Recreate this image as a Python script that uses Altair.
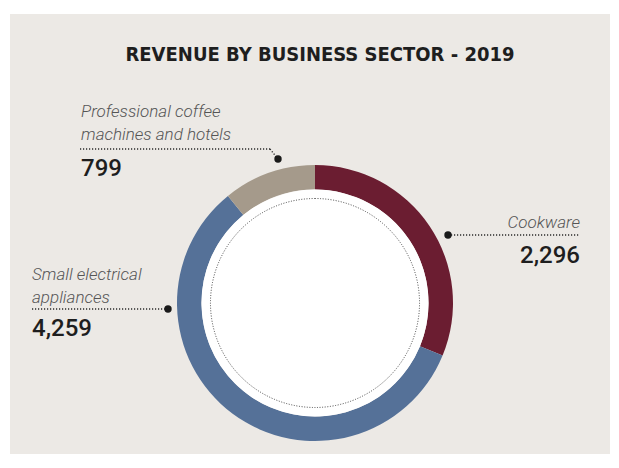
import altair as alt
import pandas as pd

# ---- data ----
sectors = ["Cookware", "Small electrical appliances", "Professional coffee machines and hotels"]
values = [2296, 4259, 799]
label_lines = [["Cookware"], ["Small electrical", "appliances"], ["Professional coffee", "machines and hotels"]]
colors = ["#6B1D31", "#557198", "#A59A8B"]
title_text = "REVENUE BY BUSINESS SECTOR - 2019"

BG = "#ECE9E5"
CX, CY = 305, 289
R_OUT, R_IN, R_DOT = 138, 113.5, 104.5

df = pd.DataFrame({"sector": sectors, "value": values, "order": list(range(len(sectors)))})

ring = alt.Chart(df).mark_arc(radius=R_OUT, radius2=R_IN, stroke=None).encode(
    theta=alt.Theta("value:Q", stack=True),
    order=alt.Order("order:Q"),
    color=alt.Color("sector:N", scale=alt.Scale(domain=sectors, range=colors), legend=None),
    x=alt.value(CX), y=alt.value(CY),
)

one = pd.DataFrame({"k": [0]})
inner = alt.Chart(one).mark_arc(radius=R_IN, theta=0, theta2=6.2832, fill="white", stroke=None).encode(
    x=alt.value(CX), y=alt.value(CY))
dotted = alt.Chart(one).mark_arc(radius=R_DOT, theta=0, theta2=6.2832, fill="white", fillOpacity=0,
                                 stroke="#333", strokeWidth=0.9, strokeDash=[1, 1.6]).encode(
    x=alt.value(CX), y=alt.value(CY))

title = alt.Chart(pd.DataFrame({"t": [title_text]})).mark_text(
    font="'DejaVu Sans Condensed', Roboto, sans-serif", fontWeight="bold", fontSize=20, color="#1e1e1e",
    align="center", baseline="alphabetic").encode(text="t:N", x=alt.value(310), y=alt.value(47))

# annotation layout: label x, label baseline y, align, number baseline y, leader segments, dot
layout = {
    "Cookware": dict(x=570, y=214, align="right", ny=249,
                     lines=[(438, 221, 570, 221)], dot=(438, 221)),
    "Small electrical appliances": dict(x=22, y=266, align="left", ny=322,
                                        lines=[(22, 295, 158, 295)], dot=(158, 295)),
    "Professional coffee machines and hotels": dict(x=71, y=103, align="left", ny=162,
                                                    lines=[(70, 135, 260, 135), (260, 135, 268, 145)],
                                                    dot=(268, 145)),
}

layers = [ring, inner, dotted, title]
for s, v, lines in zip(sectors, values, label_lines):
    L = layout[s]
    d = pd.DataFrame({"lab": [lines], "num": [f"{v:,}"]})
    layers.append(alt.Chart(d).mark_text(
        font="Roboto", fontStyle="italic", fontWeight=300, fontSize=17, color="#555555",
        align=L["align"], baseline="alphabetic", lineHeight=23).encode(
        text="lab", x=alt.value(L["x"]), y=alt.value(L["y"])))
    layers.append(alt.Chart(d).mark_text(
        font="Roboto", fontWeight=500, fontSize=24, color="#1e1e1e",
        align=L["align"], baseline="alphabetic").encode(
        text="num:N", x=alt.value(L["x"]), y=alt.value(L["ny"])))
    for (x1, y1, x2, y2) in L["lines"]:
        layers.append(alt.Chart(d).mark_rule(stroke="#2a2a2a", strokeWidth=1.4, strokeDash=[1.2, 1.8]).encode(
            x=alt.value(x1), x2=alt.value(x2), y=alt.value(y1), y2=alt.value(y2)))
    layers.append(alt.Chart(d).mark_point(filled=True, size=55, color="#1a1a1a", opacity=1).encode(
        x=alt.value(L["dot"][0]), y=alt.value(L["dot"][1])))

chart = alt.layer(*layers).properties(
    width=600, height=440,
    autosize=alt.AutoSizeParams(type="none"),
    padding={"left": 2, "top": 6, "right": 0, "bottom": 0},
    background="white",
).configure_view(fill=BG, stroke=None)

chart.save("out.html", embed_options={"renderer": "svg", "actions": False})
